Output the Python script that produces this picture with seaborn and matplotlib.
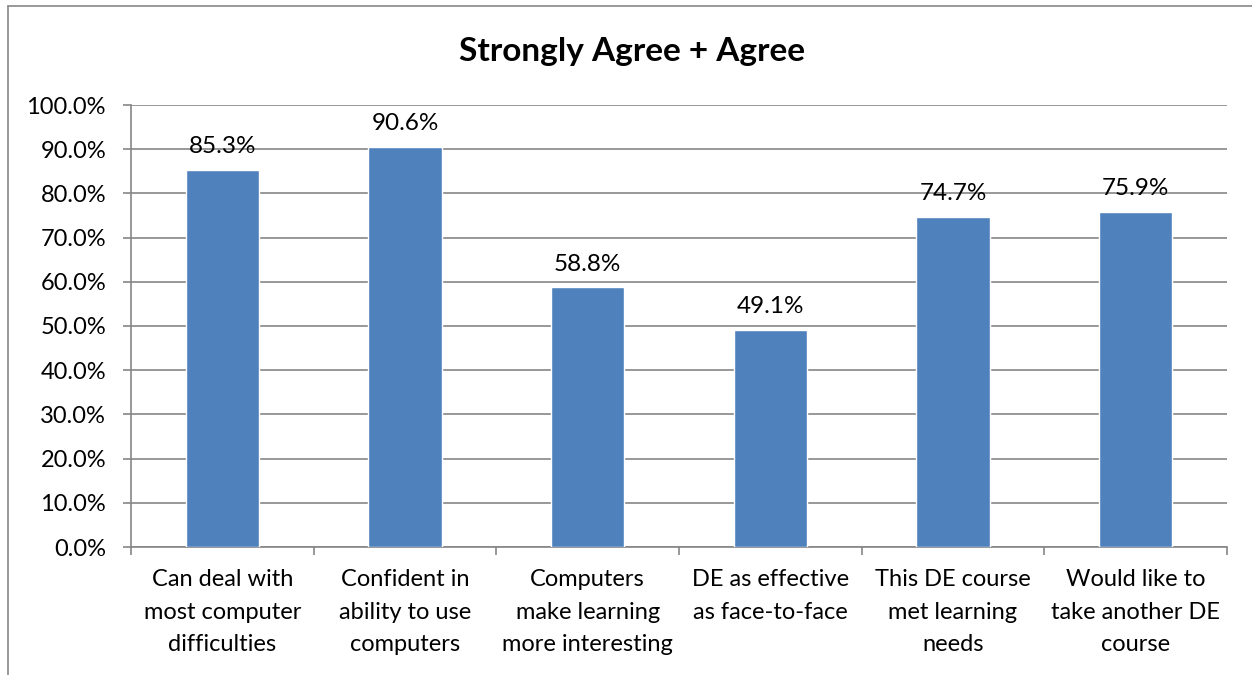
import matplotlib
matplotlib.use("Agg")
import matplotlib.pyplot as plt
import seaborn as sns
import pandas as pd
from matplotlib.lines import Line2D
from matplotlib.ticker import FixedLocator

categories = [
    "Can deal with\nmost computer\ndifficulties",
    "Confident in\nability to use\ncomputers",
    "Computers\nmake learning\nmore interesting",
    "DE as effective\nas face-to-face",
    "This DE course\nmet learning\nneeds",
    "Would like to\ntake another DE\ncourse",
]
values = [85.3, 90.6, 58.8, 49.1, 74.7, 75.9]
y_ticks = [0, 10, 20, 30, 40, 50, 60, 70, 80, 90, 100]
title = "Strongly Agree + Agree"

sns.set_theme(style="white")
plt.rcParams["font.family"] = ["Lato", "DejaVu Sans"]

df = pd.DataFrame({"cat": categories, "val": values})

fig = plt.figure(figsize=(12.52, 6.75), dpi=100)
ax = fig.add_axes([131 / 1252, 1 - 547 / 675, (1227 - 131) / 1252, (547 - 105) / 675])

grid_c = "#868686"
sns.barplot(data=df, x="cat", y="val", color="#4F81BD", saturation=1, width=0.4, ax=ax, zorder=3)

ax.set_ylim(0, 100)
ax.set_xlim(-0.5, len(categories) - 0.5)
ax.set_yticks(y_ticks)
ax.set_yticklabels([f"{v:.1f}%" for v in y_ticks], fontsize=17, color="black")
ax.yaxis.grid(True, color=grid_c, linewidth=1.2, zorder=0)
ax.set_axisbelow(True)
ax.set_xlabel("")
ax.set_ylabel("")
ax.tick_params(axis="y", which="major", length=6, width=1.2, color=grid_c, left=True, pad=12)
ax.tick_params(axis="x", which="major", length=0, pad=16)
ax.xaxis.set_minor_locator(FixedLocator([i - 0.5 for i in range(len(categories) + 1)]))
ax.tick_params(axis="x", which="minor", length=6, width=1.2, color=grid_c, bottom=True)
for lbl in ax.get_xticklabels():
    lbl.set_fontsize(17)
    lbl.set_linespacing(1.68)
    lbl.set_color("black")

for s in ["top", "right"]:
    ax.spines[s].set_visible(False)
for s in ["left", "bottom"]:
    ax.spines[s].set_color(grid_c)
    ax.spines[s].set_linewidth(1.2)

for i, v in enumerate(values):
    ax.annotate(f"{v:.1f}%", (i, v), xytext=(0, 9), textcoords="offset points",
                ha="center", va="bottom", fontsize=17.5, color="black")

fig.text(632 / 1252, 1 - 52 / 675, title, ha="center", va="center", fontsize=24,
         fontweight="bold", color="black")

# outer chart border (top and left visible)
fig.add_artist(Line2D([8 / 1252, 1.0], [1 - 6 / 675, 1 - 6 / 675], color="#888888", linewidth=1.2, transform=fig.transFigure))
fig.add_artist(Line2D([8 / 1252, 8 / 1252], [0, 1 - 6 / 675], color="#888888", linewidth=1.2, transform=fig.transFigure))

fig.savefig("out.png", dpi=100)
